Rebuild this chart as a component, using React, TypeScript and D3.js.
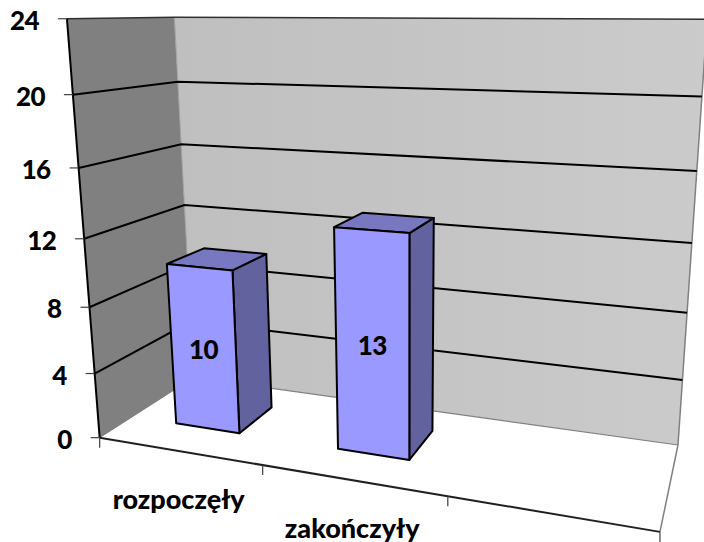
import React from "react";
import * as d3 from "d3";

const categories = ["rozpoczęły", "zakończyły", ""];
const values = [10, 13];
const tickValues = [0, 4, 8, 12, 16, 20, 24];
const W = 704, H = 542;

// Camera calibration: pixel positions of the box edges at each axis tick
const frontLeftEdge = [[100,437],[95,373],[90,307],[85,239],[79,168],[72,95],[65,19]];
const backLeftEdge = [[192,379],[190,322],[188,263],[185,205],[182,144],[178,82],[175,17]];
const backRightEdge = [[677,444],[682,380],[687,313],[693,243],[699,171],[703,97],[704,19]];
const frontRightFloor = [660,532];

function solve(A: number[][], b: number[]) {
  const n = b.length;
  const M = A.map((r, i) => [...r, b[i]]);
  for (let c = 0; c < n; c++) {
    let piv = c;
    for (let r = c + 1; r < n; r++) if (Math.abs(M[r][c]) > Math.abs(M[piv][c])) piv = r;
    [M[c], M[piv]] = [M[piv], M[c]];
    for (let r = 0; r < n; r++) {
      if (r === c) continue;
      const f = M[r][c] / M[c][c];
      for (let k = c; k <= n; k++) M[r][k] -= f * M[c][k];
    }
  }
  return M.map((r, i) => r[n] / r[i]);
}

function calibrate() {
  const pts: [number, number, number, number, number][] = [];
  tickValues.forEach((v, i) => {
    const z = v / 24;
    pts.push([0, 0, z, frontLeftEdge[i][0], frontLeftEdge[i][1]]);
    pts.push([0, 1, z, backLeftEdge[i][0], backLeftEdge[i][1]]);
    pts.push([1, 1, z, backRightEdge[i][0], backRightEdge[i][1]]);
  });
  for (let k = 0; k < 6; k++) pts.push([1, 0, 0, frontRightFloor[0], frontRightFloor[1]]);
  const rows: number[][] = [];
  const rhs: number[] = [];
  pts.forEach(([X, Y, Z, x, y]) => {
    rows.push([X, Y, Z, 1, 0, 0, 0, 0, -x * X, -x * Y, -x * Z]); rhs.push(x);
    rows.push([0, 0, 0, 0, X, Y, Z, 1, -y * X, -y * Y, -y * Z]); rhs.push(y);
  });
  const n = 11;
  const AtA = d3.range(n).map((i) => d3.range(n).map((j) => d3.sum(rows, (r) => r[i] * r[j])));
  const Atb = d3.range(n).map((i) => d3.sum(rows, (r, k) => r[i] * rhs[k]));
  return solve(AtA, Atb);
}
const cam = calibrate();
const valueScale = d3.scaleLinear().domain([0, 24]).range([0, 1]);
const project = (u: number, d: number, value: number): [number, number] => {
  const z = valueScale(value);
  const w = cam[8] * u + cam[9] * d + cam[10] * z + 1;
  return [
    (cam[0] * u + cam[1] * d + cam[2] * z + cam[3]) / w,
    (cam[4] * u + cam[5] * d + cam[6] * z + cam[7]) / w,
  ];
};

const slot = d3.scaleBand<string>().domain(categories.map((c, i) => c + i)).range([0, 1]).paddingInner(0).paddingOuter(0);
const DEPTH_FRONT = 0.32, DEPTH_BACK = 0.72, BAR_FRACTION = 0.405, BAR_SHIFT = -0.003;

const poly = (pts: [number, number][]) => (d3.line()(pts) as string) + "Z";
const seg = (a: [number, number], b: [number, number]) => d3.line()([a, b]) as string;

const font = "Lato, Carlito, sans-serif";

export default function App() {
  const floor = 0, top = 24;
  return (
    <svg width={W} height={H} viewBox={`0 0 ${W} ${H}`} style={{ position: "absolute", left: 0, top: 0, background: "#fff" }}>
      <defs>
        <linearGradient id="back" x1="0" y1="0" x2="1" y2="0">
          <stop offset="0" stopColor="#bfbfbf" />
          <stop offset="1" stopColor="#cbcbcb" />
        </linearGradient>
      </defs>
      <path d={poly([project(0, 0, floor), project(0, 1, floor), project(0, 1, top), project(0, 0, top)])} fill="#808080" />
      <path d={poly([project(0, 1, floor), project(1, 1, floor), project(1, 1, top), project(0, 1, top)])} fill="url(#back)" />
      <path d={seg(project(0, 1, floor), project(0, 1, top))} stroke="#a0a0a0" strokeWidth={1} fill="none" />
      <path d={seg(project(0, 1, floor), project(1, 1, floor))} stroke="#808080" strokeWidth={1.2} fill="none" />
      <path d={seg(project(1, 1, floor), project(1, 1, top))} stroke="#808080" strokeWidth={1.5} fill="none" />
      <path d={seg(project(0, 1, floor), project(0, 0, floor))} stroke="#808080" strokeWidth={1} fill="none" />
      <path d={seg(project(1, 1, floor), project(1, 0, floor))} stroke="#808080" strokeWidth={1.5} fill="none" />
      {tickValues.filter((v) => v > 0).map((v) => (
        <path key={v} d={d3.line()([project(0, 0, v), project(0, 1, v), project(1, 1, v)]) as string}
          stroke={v === top ? "#303030" : "#000"} strokeWidth={v === top ? 1.5 : 2} fill="none" />
      ))}
      <path d={seg(project(0, 0, floor), project(0, 0, top))} stroke="#000" strokeWidth={2} fill="none" />
      <path d={seg(project(0, 0, floor), project(1, 0, floor))} stroke="#202020" strokeWidth={2} fill="none" />
      {tickValues.map((v) => {
        const p = project(0, 0, v);
        return (
          <g key={v}>
            <path d={seg(p, [p[0] - 9, p[1]])} stroke="#404040" strokeWidth={1.2} fill="none" />
            <text x={p[0] - 28} y={p[1] + 11} textAnchor="end" fontFamily={font} fontWeight={900} fontSize={26} letterSpacing={-0.6} fill="#000">{v}</text>
          </g>
        );
      })}
      {[...slot.domain().map((c) => slot(c) as number), 1].map((u, i) => {
        const p = project(u, 0, floor);
        return <path key={i} d={seg(p, [p[0], p[1] + 10])} stroke="#404040" strokeWidth={1.2} fill="none" />;
      })}
      {categories.map((c, i) => {
        const key = c + i;
        const p = project((slot(key) as number) + slot.bandwidth() / 2, 0, floor);
        return <text key={key} x={p[0]} y={p[1] + 58} textAnchor="middle" fontFamily={font} fontWeight={900} fontSize={27} fill="#000">{c}</text>;
      })}
      {values.map((v, i) => {
        const key = categories[i] + i;
        const c = (slot(key) as number) + slot.bandwidth() / 2 + BAR_SHIFT;
        const hw = slot.bandwidth() * BAR_FRACTION / 2;
        const u0 = c - hw, u1 = c + hw;
        const d0 = DEPTH_FRONT, d1 = DEPTH_BACK;
        const lbl = project(c, d0, v / 2);
        return (
          <g key={key} stroke="#000" strokeWidth={2} strokeLinejoin="round">
            <path d={poly([project(u1, d0, 0), project(u1, d1, 0), project(u1, d1, v), project(u1, d0, v)])} fill="#62629f" />
            <path d={poly([project(u0, d0, v), project(u1, d0, v), project(u1, d1, v), project(u0, d1, v)])} fill="#7878c0" />
            <path d={poly([project(u0, d0, 0), project(u1, d0, 0), project(u1, d0, v), project(u0, d0, v)])} fill="#9999ff" />
            <text x={lbl[0]} y={lbl[1] + 10} textAnchor="middle" fontFamily={font} fontWeight={900} fontSize={26} letterSpacing={-0.6} fill="#000" stroke="none">{v}</text>
          </g>
        );
      })}
    </svg>
  );
}
